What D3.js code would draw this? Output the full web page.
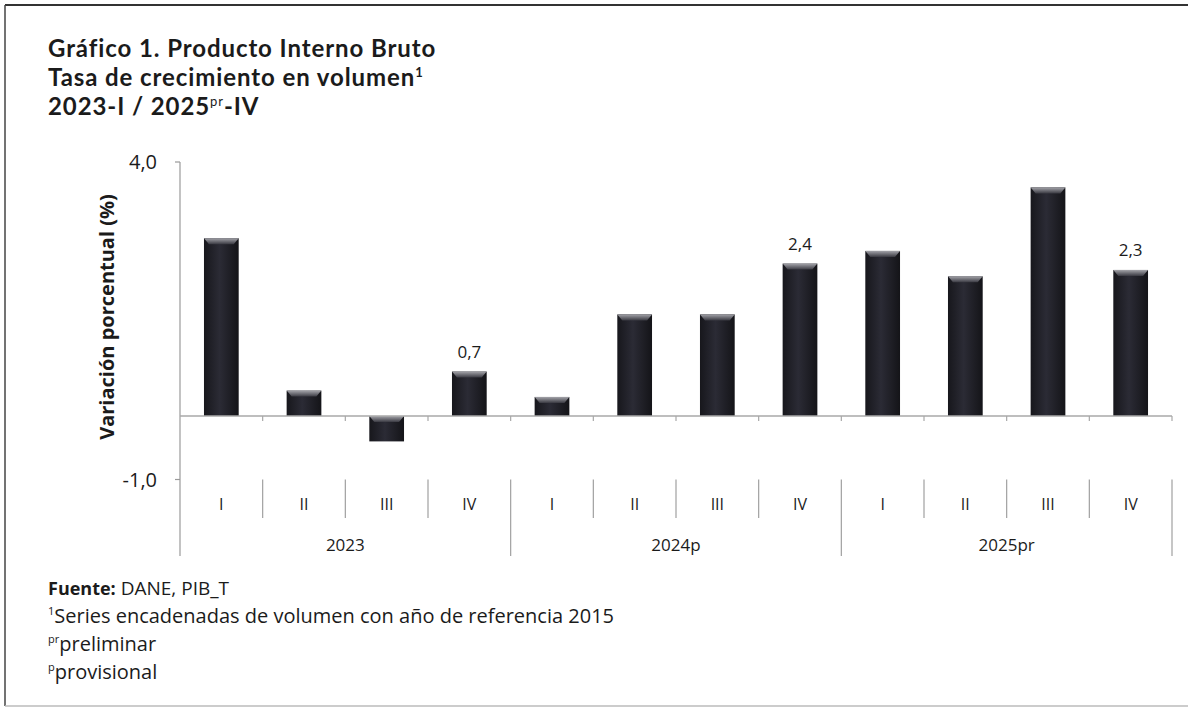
<!DOCTYPE html>
<html><head><meta charset="utf-8">
<script src="https://cdn.jsdelivr.net/npm/d3@7/dist/d3.min.js"></script>
<style>
html,body{margin:0;padding:0;background:#fff;}
svg{display:block;font-family:"Open Sans",sans-serif;}
</style></head>
<body><svg id="c" width="1188" height="709"></svg>
<script>
// ---- data ----
const quarters = ["I","II","III","IV","I","II","III","IV","I","II","III","IV"];
const years = ["2023","2024p","2025pr"];
const values = [2.8, 0.4, -0.4, 0.7, 0.3, 1.6, 1.6, 2.4, 2.6, 2.2, 3.6, 2.3];
const labelled = [3, 7, 11];
const yTicks = [4, -1];
const yTickLabels = ["4,0", "-1,0"];

const svg = d3.select("#c");
const W = 1188, H = 709;
const ink = "#1b1b1b";

// frame
svg.append("line").attr("x1",5).attr("x2",W).attr("y1",5).attr("y2",5).attr("stroke","#333").attr("stroke-width",2);
svg.append("line").attr("x1",5).attr("x2",5).attr("y1",5).attr("y2",706).attr("stroke","#444").attr("stroke-width",1.5);
svg.append("line").attr("x1",5).attr("x2",W).attr("y1",706).attr("y2",706).attr("stroke","#bbb").attr("stroke-width",1.5);

// title
const tl = svg.append("g").attr("fill", ink).attr("font-weight", 700).attr("font-size", 24)
  .style("font-family", "Lato, 'Open Sans', sans-serif");
const t1 = tl.append("text").attr("x",48).attr("y",57).text("Gráfico 1. Producto Interno Bruto");
const t2 = tl.append("text").attr("x",48).attr("y",86);
t2.append("tspan").text("Tasa de crecimiento en volumen");
t2.append("tspan").attr("font-size",13).attr("dy",-9).text("1");
const t3 = tl.append("text").attr("x",48).attr("y",115);
t3.append("tspan").text("2023-I / 2025");
t3.append("tspan").attr("font-size",13).attr("dy",-9).attr("font-weight",400).text("pr");
t3.append("tspan").attr("dy",9).text("-IV");
const len1 = t1.node().getComputedTextLength();
if (len1 < 388) tl.attr("letter-spacing", ((388 - len1) / 33).toFixed(2));

// scales
const x = d3.scaleBand().domain(d3.range(values.length)).range([180, 1172]).paddingInner(0.58).paddingOuter(0.29);
const y = d3.scaleLinear().domain([-1, 4]).range([479.5, 162]);
const step = x.step();

// gradients
const defs = svg.append("defs");
const gH = defs.append("linearGradient").attr("id","barg").attr("x1",0).attr("x2",1).attr("y1",0).attr("y2",0);
gH.append("stop").attr("offset","0%").attr("stop-color","#17171c");
gH.append("stop").attr("offset","45%").attr("stop-color","#2b2b35");
gH.append("stop").attr("offset","100%").attr("stop-color","#141418");
const gB = defs.append("linearGradient").attr("id","bev").attr("x1",0).attr("x2",0).attr("y1",0).attr("y2",1);
gB.append("stop").attr("offset","0%").attr("stop-color","#a4a4aa");
gB.append("stop").attr("offset","100%").attr("stop-color","#3a3a42");

// y axis line
svg.append("line").attr("x1",180).attr("x2",180).attr("y1",y(4)).attr("y2",556).attr("stroke","#9a9a9a").attr("stroke-width",1.2);
// y ticks
svg.selectAll(".yt").data(yTicks).enter().append("line")
  .attr("x1",175).attr("x2",180).attr("y1",d=>y(d)).attr("y2",d=>y(d)).attr("stroke","#9a9a9a").attr("stroke-width",1.2);
svg.selectAll(".ytl").data(yTicks).enter().append("text")
  .attr("x",157).attr("y",d=>y(d)).attr("dy","0.35em").attr("text-anchor","end")
  .attr("font-size",20).attr("fill",ink).text((d,i)=>yTickLabels[i]);

// y label
svg.append("text").attr("transform","translate(114,317) rotate(-90)").attr("text-anchor","middle")
  .attr("font-size",20).attr("font-weight",700).attr("fill",ink).text("Variación porcentual (%)");

// bars
const bars = svg.append("g");
bars.selectAll("rect").data(values).enter().append("rect")
  .attr("x",(d,i)=>x(i)).attr("width",x.bandwidth())
  .attr("y",d=>y(Math.max(0,d))).attr("height",d=>Math.abs(y(d)-y(0)))
  .attr("fill","url(#barg)");
bars.selectAll("path").data(values).enter().append("path")
  .attr("d",(d,i)=>{
    const x0 = x(i), x1 = x(i)+x.bandwidth(), t = y(Math.max(0,d)), b = t+6;
    return `M${x0},${t}L${x1},${t}L${x1-5},${b}L${x0+5},${b}Z`;
  }).attr("fill","url(#bev)");

// zero line + small ticks
svg.append("line").attr("x1",180).attr("x2",1172).attr("y1",y(0)).attr("y2",y(0)).attr("stroke","#a8a8a8").attr("stroke-width",1.3);
svg.selectAll(".zt").data(d3.range(1, values.length+1)).enter().append("line")
  .attr("x1",i=>180+i*step).attr("x2",i=>180+i*step).attr("y1",y(0)).attr("y2",y(0)+5)
  .attr("stroke","#a8a8a8").attr("stroke-width",1.2);

// data labels
svg.selectAll(".dl").data(labelled).enter().append("text")
  .attr("x",i=>x(i)+x.bandwidth()/2).attr("y",i=>y(values[i])-14).attr("text-anchor","middle")
  .attr("font-size",17).attr("fill",ink).text(i=>d3.format(".1f")(values[i]).replace(".",","));

// category dividers
const catTop = y(-1);
svg.selectAll(".qd").data(d3.range(1, values.length+1)).enter().append("line")
  .attr("x1",i=>180+i*step).attr("x2",i=>180+i*step)
  .attr("y1",catTop).attr("y2",i=> i%4===0 ? 556 : 518)
  .attr("stroke","#a0a0a0").attr("stroke-width",1.2);
svg.selectAll(".ql").data(quarters).enter().append("text")
  .attr("x",(d,i)=>x(i)+x.bandwidth()/2).attr("y",504).attr("dy","0.35em").attr("text-anchor","middle")
  .attr("font-size",16).attr("fill",ink).text(d=>d);
svg.selectAll(".yl").data(years).enter().append("text")
  .attr("x",(d,i)=>180+(i*4+2)*step).attr("y",545).attr("dy","0.35em").attr("text-anchor","middle")
  .attr("font-size",17).attr("fill",ink).text(d=>d);

// footnotes
const fn = svg.append("g").attr("fill",ink).attr("font-size",20);
const f1 = fn.append("text").attr("x",48).attr("y",595);
f1.append("tspan").attr("font-weight",700).attr("font-size",18).text("Fuente:");
f1.append("tspan").attr("font-size",19).text(" DANE, PIB_T");
const f2 = fn.append("text").attr("x",48).attr("y",623);
f2.append("tspan").attr("font-size",11).attr("dy",-8).text("1");
f2.append("tspan").attr("dy",8).text("Series encadenadas de volumen con año de referencia 2015");
const f3 = fn.append("text").attr("x",48).attr("y",651);
f3.append("tspan").attr("font-size",11).attr("dy",-8).text("pr");
f3.append("tspan").attr("dy",8).text("preliminar");
const f4 = fn.append("text").attr("x",48).attr("y",679);
f4.append("tspan").attr("font-size",11).attr("dy",-8).text("p");
f4.append("tspan").attr("dy",8).text("provisional");
</script></body></html>
